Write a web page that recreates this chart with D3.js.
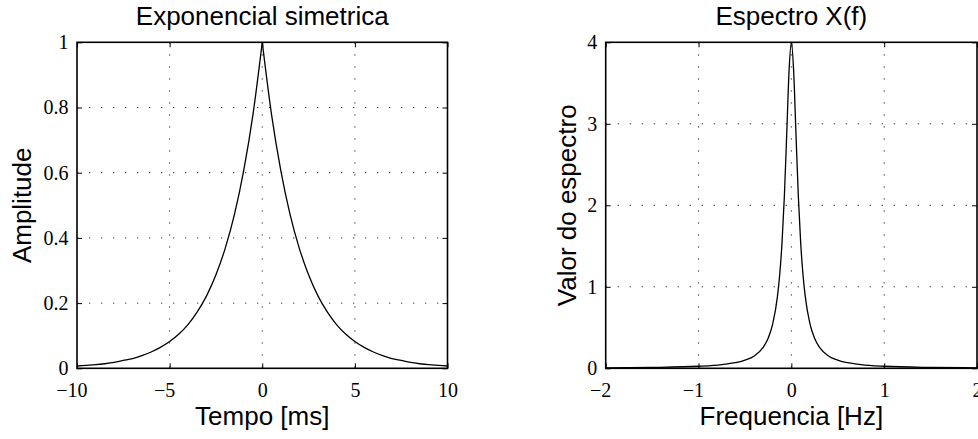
<!DOCTYPE html>
<html lang="en">
<head>
<meta charset="utf-8">
<title>Exponencial simetrica</title>
<script src="https://cdn.jsdelivr.net/npm/d3@7/dist/d3.min.js"></script>
<style>
    body { margin: 0; background: #fff; }
    svg { display: block; }
    .axis text {
        font-family: "Liberation Serif", "Times New Roman", serif;
        font-size: 20px;
        fill: #000;
    }
    .axis line { stroke: #000; stroke-width: 1; }
    .grid line { stroke: #000; stroke-width: 1; stroke-dasharray: 1.3,10.7; opacity: 0.8; }
    .label {
        font-family: "Liberation Sans", Arial, sans-serif;
        font-size: 26px;
        fill: #000;
    }
</style>
</head>
<body>
<script>
// --- data ---
// left panel: symmetric exponential
var timeMs = [-10, -9.5, -9, -8.5, -8, -7.5, -7, -6.5, -6, -5.5, -5, -4.5, -4, -3.5, -3, -2.5, -2, -1.5, -1, -0.5,
              0, 0.5, 1, 1.5, 2, 2.5, 3, 3.5, 4, 4.5, 5, 5.5, 6, 6.5, 7, 7.5, 8, 8.5, 9, 9.5, 10];
var amplitude = [0.007, 0.009, 0.011, 0.014, 0.018, 0.024, 0.030, 0.039, 0.050, 0.064, 0.082, 0.105, 0.135, 0.174, 0.223, 0.287, 0.368, 0.472, 0.607, 0.779,
                 1.000, 0.779, 0.607, 0.472, 0.368, 0.287, 0.223, 0.174, 0.135, 0.105, 0.082, 0.064, 0.050, 0.039, 0.030, 0.024, 0.018, 0.014, 0.011, 0.009, 0.007];

// right panel: spectrum
var freqHz = [-2, -1.5, -1, -0.75, -0.5, -0.4, -0.3, -0.25, -0.2, -0.15, -0.125, -0.1, -0.075, -0.05, -0.025,
              0, 0.025, 0.05, 0.075, 0.1, 0.125, 0.15, 0.2, 0.25, 0.3, 0.4, 0.5, 0.75, 1, 1.5, 2];
var spectrum = [0.006, 0.011, 0.025, 0.045, 0.099, 0.152, 0.263, 0.368, 0.547, 0.879, 1.154, 1.551, 2.118, 2.868, 3.641,
                4.000, 3.641, 2.868, 2.118, 1.551, 1.154, 0.879, 0.547, 0.368, 0.263, 0.152, 0.099, 0.045, 0.025, 0.011, 0.006];

// tick values
var leftXTicks = [-10, -5, 0, 5, 10];
var leftYTicks = [0, 0.2, 0.4, 0.6, 0.8, 1];
var rightXTicks = [-2, -1, 0, 1, 2];
var rightYTicks = [0, 1, 2, 3, 4];

var w = 978;
var h = 439;
var plotTop = 42.3, plotBottom = 368.3;   // "top" is taken by window.top

var svg = d3.select("body")
    .append("svg")
    .attr("width", w)
    .attr("height", h);

// minus sign like the original
function fmt(d) {
    return d < 0 ? "\u2212" + Math.abs(d) : String(d);
}

function panel(opt) {
    var x = d3.scaleLinear().domain(opt.xDomain).range([opt.left, opt.right]);
    var y = d3.scaleLinear().domain(opt.yDomain).range([plotBottom, plotTop]);

    var g = svg.append("g");

    // dotted grid
    var grid = g.append("g").attr("class", "grid");
    grid.selectAll(".gx")
        .data(opt.xTicks.slice(1, -1))
        .enter().append("line")
        .attr("x1", function(d) { return x(d); })
        .attr("x2", function(d) { return x(d); })
        .attr("y1", plotTop)
        .attr("y2", plotBottom);
    grid.selectAll(".gy")
        .data(opt.yTicks.slice(1, -1))
        .enter().append("line")
        .attr("x1", opt.left)
        .attr("x2", opt.right)
        .attr("y1", function(d) { return y(d); })
        .attr("y2", function(d) { return y(d); });

    // axes, ticks pointing inwards
    var xAxis = d3.axisBottom(x).tickValues(opt.xTicks).tickSize(-5).tickPadding(14.5).tickFormat(fmt);
    var yAxis = d3.axisLeft(y).tickValues(opt.yTicks).tickSize(-5).tickPadding(8.5).tickFormat(fmt);

    var gx = g.append("g")
        .attr("class", "axis")
        .attr("transform", "translate(0," + plotBottom + ")")
        .call(xAxis);
    gx.selectAll("text")
        .attr("dx", function(d) { return d < 0 ? "-0.28em" : 0; });

    g.append("g")
        .attr("class", "axis")
        .attr("transform", "translate(" + opt.left + ",0)")
        .call(yAxis);

    // mirrored ticks on top and right
    g.append("g")
        .attr("class", "axis")
        .attr("transform", "translate(0," + plotTop + ")")
        .call(d3.axisTop(x).tickValues(opt.xTicks).tickSize(-5).tickFormat(""));
    g.append("g")
        .attr("class", "axis")
        .attr("transform", "translate(" + opt.right + ",0)")
        .call(d3.axisRight(y).tickValues(opt.yTicks).tickSize(-5).tickFormat(""));

    g.selectAll(".axis .domain").remove();
    g.selectAll(".axis").attr("font-family", null).attr("font-size", null);

    // the curve, drawn per half when it has a cusp
    var line = d3.line()
        .x(function(d) { return x(d[0]); })
        .y(function(d) { return y(d[1]); })
        .curve(d3.curveMonotoneX);

    var pts = d3.zip(opt.xs, opt.ys);
    var parts = opt.cusp
        ? [pts.filter(function(d) { return d[0] <= 0; }), pts.filter(function(d) { return d[0] >= 0; })]
        : [pts];

    g.selectAll(".curve")
        .data(parts)
        .enter().append("path")
        .attr("class", "curve")
        .attr("fill", "none")
        .attr("stroke", "#000")
        .attr("stroke-width", 1.3)
        .attr("d", line);

    // box
    g.append("rect")
        .attr("x", opt.left)
        .attr("y", plotTop)
        .attr("width", opt.right - opt.left)
        .attr("height", plotBottom - plotTop)
        .attr("fill", "none")
        .attr("stroke", "#000")
        .attr("stroke-width", 1.6);

    var cx = (opt.left + opt.right) / 2;
    var cy = (plotTop + plotBottom) / 2;

    // title and labels
    g.append("text")
        .attr("class", "label")
        .attr("x", cx)
        .attr("y", 25)
        .attr("text-anchor", "middle")
        .text(opt.title);
    g.append("text")
        .attr("class", "label")
        .attr("x", cx)
        .attr("y", 425)
        .attr("text-anchor", "middle")
        .text(opt.xLabel);
    g.append("text")
        .attr("class", "label")
        .attr("transform", "translate(" + opt.yLabelX + "," + cy + ") rotate(-90)")
        .attr("text-anchor", "middle")
        .text(opt.yLabel);
}

panel({
    left: 77, right: 447.5,
    xDomain: [-10, 10], yDomain: [0, 1],
    xTicks: leftXTicks, yTicks: leftYTicks,
    xs: timeMs, ys: amplitude, cusp: true,
    title: "Exponencial simetrica",
    xLabel: "Tempo [ms]",
    yLabel: "Amplitude",
    yLabelX: 31
});

panel({
    left: 605.7, right: 977,
    xDomain: [-2, 2], yDomain: [0, 4],
    xTicks: rightXTicks, yTicks: rightYTicks,
    xs: freqHz, ys: spectrum, cusp: false,
    title: "Espectro X(f)",
    xLabel: "Frequencia [Hz]",
    yLabel: "Valor do espectro",
    yLabelX: 576
});
</script>
</body>
</html>
